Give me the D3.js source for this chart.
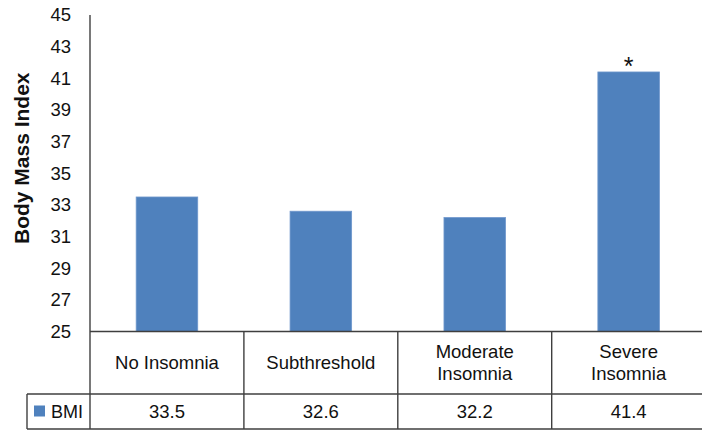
<!DOCTYPE html>
<html>
<head>
<meta charset="utf-8">
<script src="https://cdn.jsdelivr.net/npm/d3@7"></script>
<style>
  html, body { margin: 0; padding: 0; background: #fff; }
  svg { display: block; font-family: "Liberation Sans", Arial, Helvetica, sans-serif; }
</style>
</head>
<body>
<svg id="chart" width="702" height="432"></svg>
<script>
// BMI by insomnia severity
const categories = ["No Insomnia", "Subthreshold", "Moderate Insomnia", "Severe Insomnia"];
const categoryLines = [["No Insomnia"], ["Subthreshold"], ["Moderate", "Insomnia"], ["Severe", "Insomnia"]];
const bmiValues = [33.5, 32.6, 32.2, 41.4];
const yTicks = [25, 27, 29, 31, 33, 35, 37, 39, 41, 43, 45];
const significant = [false, false, false, true];
const seriesName = "BMI";
const yTitle = "Body Mass Index";

const svg = d3.select("#chart");
const barColor = "#4F81BD";
const lineColor = "#3f3f3f";
const textColor = "#111";

const plotLeft = 90, plotRight = 705.6, plotTop = 15, plotBottom = 331.5;
const rowMid = 394, rowBottom = 429, legendLeft = 27;

const x = d3.scaleBand().domain(categories).range([plotLeft, plotRight]).paddingInner(0).paddingOuter(0);
const y = d3.scaleLinear().domain([25, 45]).range([plotBottom, plotTop]);
const barW = x.bandwidth() * 0.4;

// y axis: labels only, no tick marks
const yAxis = d3.axisLeft(y).tickValues(yTicks).tickSize(0).tickPadding(19).tickFormat(d3.format("d"));
const gy = svg.append("g").attr("transform", `translate(${plotLeft},0)`).call(yAxis);
gy.select(".domain").remove();
gy.selectAll("text").attr("font-size", 18.5).attr("fill", textColor)
  .attr("font-family", "'Liberation Sans', Arial, sans-serif");

// bars
svg.append("g").selectAll("rect").data(bmiValues).join("rect")
  .attr("x", (d, i) => x(categories[i]) + (x.bandwidth() - barW) / 2)
  .attr("y", d => y(d))
  .attr("width", barW)
  .attr("height", d => y(25) - y(d))
  .attr("fill", barColor)
  .attr("stroke", "#6f97cc")
  .attr("stroke-width", 0.8);

// significance marker
svg.append("g").selectAll("text").data(bmiValues.map((v, i) => ({ v, i })).filter(d => significant[d.i])).join("text")
  .attr("x", d => x(categories[d.i]) + x.bandwidth() / 2)
  .attr("y", d => y(d.v) + 3)
  .attr("text-anchor", "middle")
  .attr("font-size", 25)
  .attr("fill", textColor)
  .text("*");

// y axis title
svg.append("text")
  .attr("transform", `translate(29,${(plotTop + plotBottom) / 2 - 15}) rotate(-90)`)
  .attr("text-anchor", "middle")
  .attr("font-size", 21)
  .attr("font-weight", "bold")
  .attr("fill", textColor)
  .text(yTitle);

// data table grid
const grid = svg.append("g").attr("stroke", lineColor).attr("stroke-width", 1.4).attr("fill", "none");
grid.append("line").attr("x1", plotLeft).attr("x2", plotLeft).attr("y1", plotTop).attr("y2", rowBottom);
grid.append("line").attr("x1", plotLeft).attr("x2", plotRight).attr("y1", plotBottom).attr("y2", plotBottom);
grid.append("line").attr("x1", legendLeft).attr("x2", plotRight).attr("y1", rowMid).attr("y2", rowMid);
grid.append("line").attr("x1", legendLeft).attr("x2", plotRight).attr("y1", rowBottom).attr("y2", rowBottom);
grid.append("line").attr("x1", legendLeft).attr("x2", legendLeft).attr("y1", rowMid).attr("y2", rowBottom);
grid.selectAll("line.sep").data(categories).join("line").attr("class", "sep")
  .attr("x1", d => x(d) + x.bandwidth()).attr("x2", d => x(d) + x.bandwidth())
  .attr("y1", plotBottom).attr("y2", rowBottom);

// category labels
const catRowMid = (plotBottom + rowMid) / 2;
const lineH = 22;
svg.append("g").selectAll("text").data(categories).join("text")
  .attr("x", d => x(d) + x.bandwidth() / 2)
  .attr("text-anchor", "middle")
  .attr("font-size", 18.5)
  .attr("fill", textColor)
  .each(function (d, i) {
    const lines = categoryLines[i];
    const t = d3.select(this);
    lines.forEach((ln, k) => {
      t.append("tspan")
        .attr("x", x(d) + x.bandwidth() / 2)
        .attr("y", catRowMid + (k - (lines.length - 1) / 2) * lineH)
        .attr("dy", "0.35em")
        .text(ln);
    });
  });

// value row
const valRowMid = (rowMid + rowBottom) / 2;
svg.append("g").selectAll("text").data(bmiValues).join("text")
  .attr("x", (d, i) => x(categories[i]) + x.bandwidth() / 2)
  .attr("y", valRowMid)
  .attr("dy", "0.35em")
  .attr("text-anchor", "middle")
  .attr("font-size", 18.5)
  .attr("fill", textColor)
  .text(d => d3.format(".1f")(d));

// legend key in table
svg.append("rect").attr("x", 34).attr("y", valRowMid - 6).attr("width", 11).attr("height", 11).attr("fill", barColor);
svg.append("text").attr("x", 51).attr("y", valRowMid).attr("dy", "0.35em")
  .attr("font-size", 18).attr("fill", textColor).text(seriesName);
</script>
</body>
</html>
